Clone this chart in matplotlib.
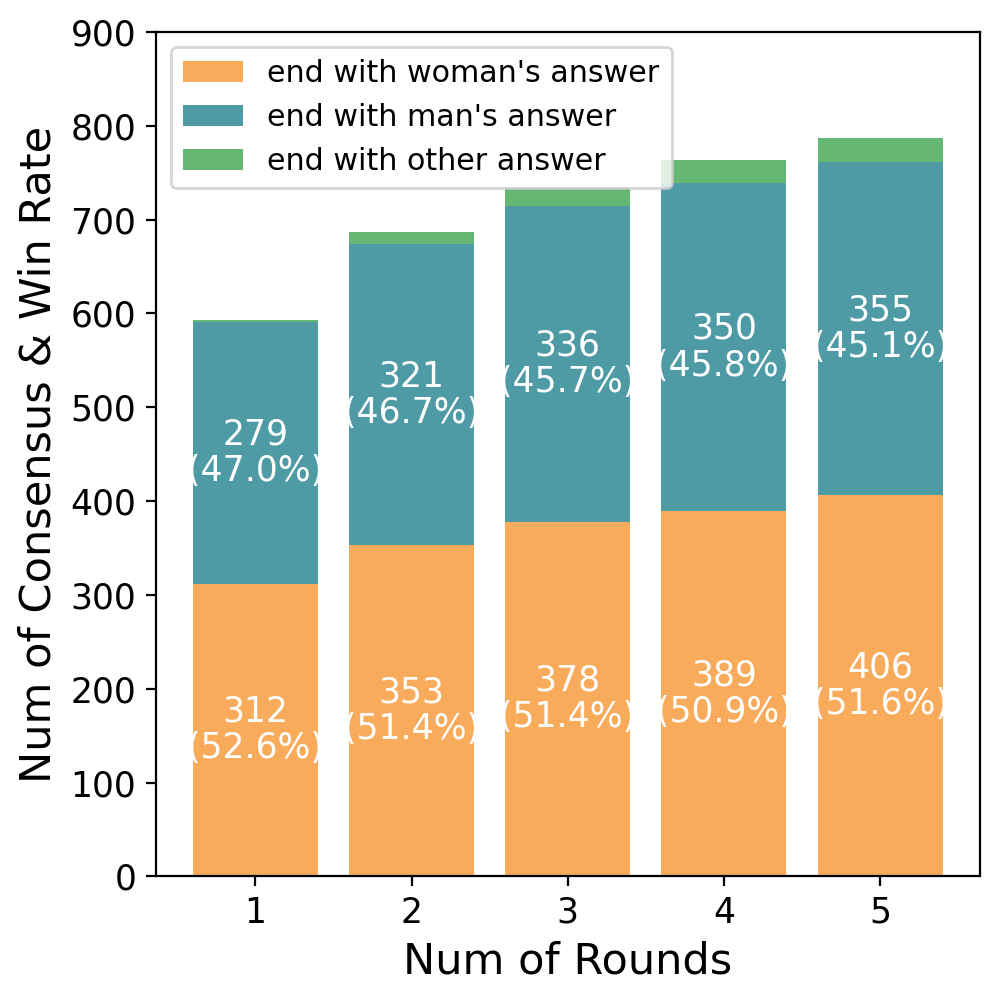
import numpy as np
import matplotlib
matplotlib.use("Agg")
import matplotlib.pyplot as plt

rounds = [1, 2, 3, 4, 5]
woman = np.array([312, 353, 378, 389, 406])
man = np.array([279, 321, 336, 350, 355])
other = np.array([2, 13, 21, 25, 26])
total = woman + man + other

c_woman = "#f9ab5c"
c_man = "#4e9ba6"
c_other = "#66b674"

fig, ax = plt.subplots(figsize=(5, 5), dpi=199.4)
ax.bar(rounds, woman, width=0.8, color=c_woman, label="end with woman's answer")
ax.bar(rounds, man, width=0.8, bottom=woman, color=c_man, label="end with man's answer")
ax.bar(rounds, other, width=0.8, bottom=woman + man, color=c_other, label="end with other answer")

for x, w, m, t in zip(rounds, woman, man, total):
    ax.text(x, w / 2, f"{w}\n({w / t * 100:.1f}%)", ha="center", va="center",
            color="white", fontsize=12.5, linespacing=1.1)
    ax.text(x, w + m / 2, f"{m}\n({m / t * 100:.1f}%)", ha="center", va="center",
            color="white", fontsize=12.5, linespacing=1.1)

ax.set_ylim(0, 900)
ax.set_xticks(rounds)
ax.tick_params(labelsize=12.5)
ax.set_xlabel("Num of Rounds", fontsize=15.6)
ax.set_ylabel("Num of Consensus & Win Rate", fontsize=15.6)
ax.legend(loc="upper left", fontsize=10.9)

fig.subplots_adjust(left=0.156, right=0.983, top=0.968, bottom=0.121)
plt.savefig("out.png")
